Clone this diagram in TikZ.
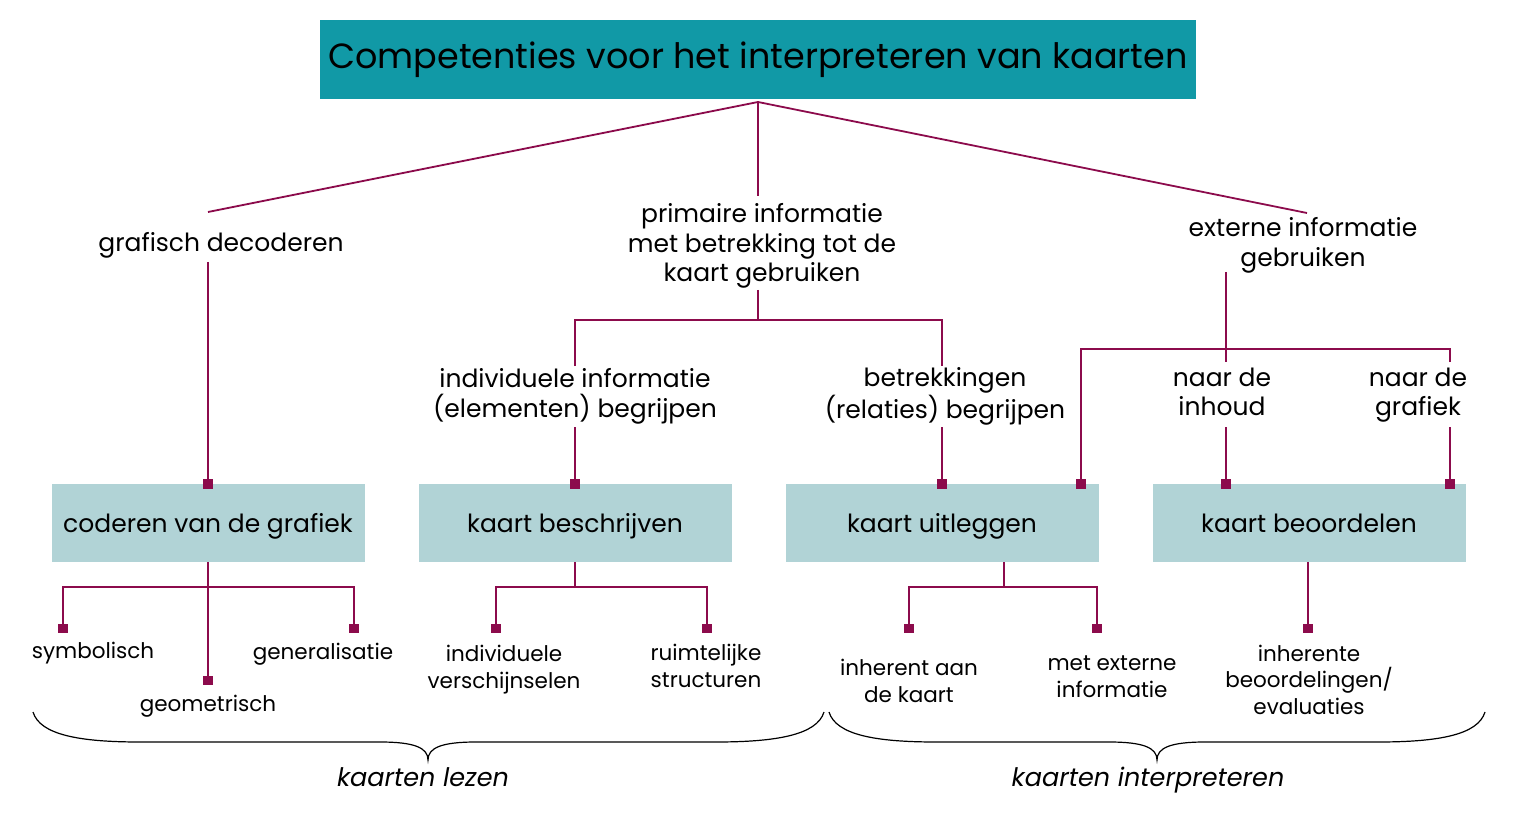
\documentclass[tikz,border=0pt]{standalone}
\usepackage{fontspec}
\setmainfont{Poppins}
\usetikzlibrary{arrows.meta}
\definecolor{titlefill}{HTML}{1199A6}
\definecolor{boxfill}{HTML}{B1D3D6}
\definecolor{linecol}{HTML}{8C0B4C}
\tikzset{
  titlebox/.style={fill=titlefill, minimum width=876pt, minimum height=79pt, inner sep=0pt, text height=26pt, text depth=7pt, font=\fontsize{35}{40}\selectfont},
  compbox/.style={fill=boxfill, minimum width=313pt, minimum height=78pt, inner sep=0pt, text height=24pt, text depth=5pt, font=\fontsize{25}{30}\selectfont},
  lbl/.style={align=center, inner sep=0pt, anchor=base, font=\fontsize{25}{29.5}\selectfont},
  small/.style={align=center, inner sep=0pt, anchor=base, font=\fontsize{21.5}{26.5}\selectfont},
  bracelbl/.style={inner sep=0pt, anchor=base, font=\fontsize{25.5}{30}\selectfont\itshape},
  conn/.style={draw=linecol, line width=1.8pt},
  sq/.style={conn, -{Square[length=9.5pt,width=9.5pt]}},
  bracestyle/.style={draw=black, line width=1.2pt},
}
\begin{document}
\begin{tikzpicture}[x=1pt,y=-1pt]
\useasboundingbox (0,0) rectangle (1518,818);
% title
\node[titlebox] (title) at (758,59.5) {Competenties voor het interpreteren van kaarten};
\coordinate (root) at (758,102);
% level 1 labels (base = baseline of last line)
\node[lbl] (grafdec) at (221,252) {grafisch decoderen};
\node[lbl] (prim) at (762,282) {primaire informatie\\met betrekking tot de\\kaart gebruiken};
\node[lbl] (ext) at (1303,266.5) {externe informatie\\gebruiken};
\coordinate (e1) at (208,212);
\coordinate (e2) at (758,196);
\coordinate (e3) at (1307,213);
\draw[conn] (e1) -- (root) -- (e3);
\draw[conn] (root) -- (e2);
% level 2 labels
\node[lbl] (indiv) at (575,417) {individuele informatie\\(elementen) begrijpen};
\node[lbl] (betr) at (945,418) {betrekkingen\\(relaties) begrijpen};
\node[lbl] (inhoud) at (1222,415.5) {naar de\\inhoud};
\node[lbl] (grafiek) at (1418,415.5) {naar de\\grafiek};
% boxes
\node[compbox] (b1) at (208,523) {coderen van de grafiek};
\node[compbox] (b2) at (575,523) {kaart beschrijven};
\node[compbox] (b3) at (942,523) {kaart uitleggen};
\node[compbox] (b4) at (1309,523) {kaart beoordelen};
% grafisch decoderen -> box 1
\coordinate (g1s) at (208,262);
\draw[sq] (g1s) -- ([yshift=-5pt]b1.north -| g1s);
% primaire informatie -> split
\coordinate (p1s) at (758,290);
\coordinate (p1j) at (758,320);
\coordinate (p1l) at (575,366);
\coordinate (p1r) at (942,366);
\draw[conn] (p1s) -- (p1j);
\draw[conn] (p1l) |- (p1j) -| (p1r);
\coordinate (i1s) at (575,427);
\coordinate (r1s) at (942,427);
\draw[sq] (i1s) -- ([yshift=-5pt]b2.north -| i1s);
\draw[sq] (r1s) -- ([yshift=-5pt]b3.north -| r1s);
% externe informatie -> split
\coordinate (x1s) at (1226,272);
\coordinate (x1m) at (1226,362);
\coordinate (xl) at (1081,349);
\coordinate (xr) at (1450,362);
\draw[conn] (x1s) -- (x1m);
\draw[sq] (xr) |- (xl) -- ([yshift=-5pt]b3.north -| xl);
\coordinate (n1s) at (1226,427);
\coordinate (n2s) at (1450,427);
\draw[sq] (n1s) -- ([yshift=-5pt]b4.north -| n1s);
\draw[sq] (n2s) -- ([yshift=-5pt]b4.north -| n2s);
% leaves box 1
\node[small] (symb) at (93,658) {symbolisch};
\node[small] (geom) at (208,711) {geometrisch};
\node[small] (gen) at (323,659.5) {generalisatie};
\coordinate (b1j) at (208,587);
\coordinate (b1l) at (63,633);
\coordinate (b1r) at (354,633);
\coordinate (b1m) at (208,685);
\draw[sq] (b1.south) -- (b1m);
\draw[sq] (b1j) -| (b1l);
\draw[sq] (b1j) -| (b1r);
% leaves box 2
\node[small] (indvs) at (504,688) {individuele\\verschijnselen};
\node[small] (ruimt) at (706,687) {ruimtelijke\\structuren};
\coordinate (b2j) at (575,587);
\coordinate (b2l) at (496,633);
\coordinate (b2r) at (707,633);
\draw[conn] (b2.south) -- (b2j);
\draw[sq] (b2j) -| (b2l);
\draw[sq] (b2j) -| (b2r);
% leaves box 3
\node[small] (inher) at (909,702) {inherent aan\\de kaart};
\node[small] (metext) at (1112,697) {met externe\\informatie};
\coordinate (b3t) at (1004,562);
\coordinate (b3j) at (1004,587);
\coordinate (b3l) at (909,633);
\coordinate (b3r) at (1097,633);
\draw[conn] (b3t) -- (b3j);
\draw[sq] (b3j) -| (b3l);
\draw[sq] (b3j) -| (b3r);
% leaves box 4
\node[small] (inhbe) at (1309,714) {inherente\\beoordelingen/\\evaluaties};
\coordinate (b4m) at (1308,633);
\draw[sq] (b4.south -| b4m) -- (b4m);
% braces
\coordinate (br1a) at (33,712);
\coordinate (br1t) at (428,760);
\coordinate (br1b) at (824,712);
\draw[bracestyle] (br1a) .. controls (40,735) and (80,742) .. (140,742) -- (380,742)
   .. controls (415,742) and (428,748) .. (br1t)
   .. controls (428,748) and (441,742) .. (476,742) -- (716,742)
   .. controls (776,742) and (817,735) .. (br1b);
\coordinate (br2a) at (829,712);
\coordinate (br2t) at (1157,760);
\coordinate (br2b) at (1485,712);
\draw[bracestyle] (br2a) .. controls (836,735) and (876,742) .. (936,742) -- (1109,742)
   .. controls (1144,742) and (1157,748) .. (br2t)
   .. controls (1157,748) and (1170,742) .. (1205,742) -- (1378,742)
   .. controls (1438,742) and (1478,735) .. (br2b);
\node[bracelbl] (lezen) at (423,786) {kaarten lezen};
\node[bracelbl] (interp) at (1148,786) {kaarten interpreteren};
\end{tikzpicture}
\end{document}
